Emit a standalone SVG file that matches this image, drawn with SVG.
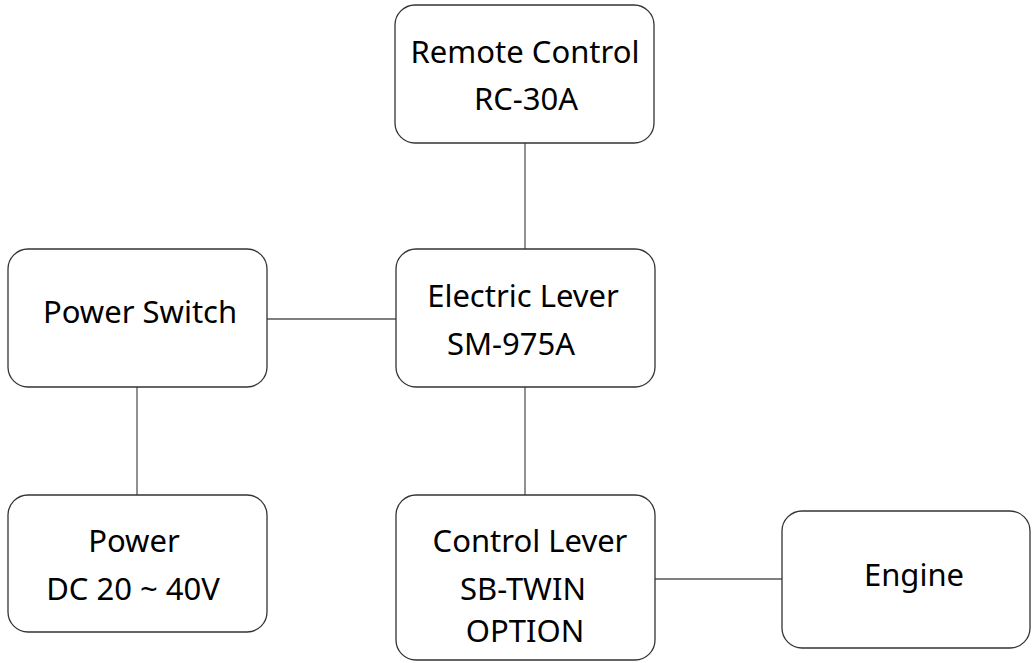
<svg xmlns="http://www.w3.org/2000/svg" width="1032" height="663" viewBox="0 0 1032 663">
<style>
.box{fill:#fff;stroke:#333;stroke-width:1.3}
.ln{stroke:#555;stroke-width:1.3;fill:none}
text{font-family:"Noto Sans","Liberation Sans",sans-serif;font-size:31px;fill:#000;text-anchor:middle}
</style>
<rect width="1032" height="663" fill="#fff"/>
<g id="connectors">
<line class="ln" x1="525" y1="143" x2="525" y2="249"/>
<line class="ln" x1="267" y1="319" x2="396" y2="319"/>
<line class="ln" x1="137" y1="387" x2="137" y2="495"/>
<line class="ln" x1="525" y1="387" x2="525" y2="495"/>
<line class="ln" x1="655" y1="579" x2="782" y2="579"/>
</g>
<g id="remote">
<rect class="box" x="395" y="5" width="259" height="138" rx="20"/>
<text x="525" y="63">Remote Control</text>
<text x="526" y="110">RC-30A</text>
</g>
<g id="powerswitch">
<rect class="box" x="8" y="249" width="259" height="138" rx="20"/>
<text x="140" y="323">Power Switch</text>
</g>
<g id="electric">
<rect class="box" x="396" y="249" width="259" height="138" rx="20"/>
<text x="523" y="307">Electric Lever</text>
<text x="511" y="355">SM-975A</text>
</g>
<g id="power">
<rect class="box" x="8" y="495" width="259" height="137" rx="20"/>
<text x="134" y="552">Power</text>
<text x="133" y="600">DC 20 ~ 40V</text>
</g>
<g id="control">
<rect class="box" x="396" y="495" width="259" height="165" rx="20"/>
<text x="530" y="552">Control Lever</text>
<text x="523" y="600">SB-TWIN</text>
<text x="525" y="642">OPTION</text>
</g>
<g id="engine">
<rect class="box" x="782" y="511" width="248" height="137" rx="20"/>
<text x="914" y="586">Engine</text>
</g>
</svg>
